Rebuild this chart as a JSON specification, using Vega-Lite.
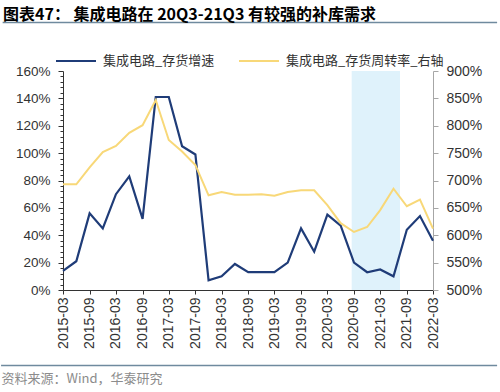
{
  "$schema": "https://vega.github.io/schema/vega-lite/v6.json",
  "width": 370,
  "height": 219,
  "autosize": {"type": "none"},
  "padding": {"left": 63, "top": 71, "right": 67, "bottom": 102},
  "background": "white",
  "title": {
    "text": "图表47： 集成电路在 20Q3-21Q3 有较强的补库需求",
    "anchor": "start",
    "frame": "group",
    "dx": -60,
    "dy": 1,
    "offset": 0,
    "font": "Noto Sans CJK SC",
    "fontSize": 16,
    "fontWeight": "bold",
    "color": "#000000"
  },
  "config": {
    "view": {"stroke": null},
    "axis": {"grid": false, "labelFont": "Liberation Sans", "labelColor": "#333333", "labelOverlap": false},
    "axisX": {
      "format": "%Y-%m",
      "labelAngle": -90,
      "labelAlign": "right",
      "labelBaseline": "middle",
      "labelFontSize": 14,
      "labelPadding": 3,
      "tickSize": 4,
      "tickColor": "#333333",
      "domainColor": "#333333",
      "titleX": -62,
      "titleY": 88,
      "titleAlign": "left",
      "titleAnchor": "start",
      "titleBaseline": "middle",
      "titleFont": "Noto Sans CJK SC",
      "titleFontSize": 13,
      "titleFontWeight": "normal",
      "titleColor": "#8C8C8C"
    },
    "legend": {
      "orient": "none",
      "legendX": -8,
      "legendY": -31,
      "direction": "horizontal",
      "symbolType": "stroke",
      "symbolSize": 1600,
      "symbolStrokeWidth": 2,
      "labelFont": "Noto Sans CJK SC",
      "labelFontSize": 13,
      "labelColor": "#333333",
      "columnPadding": 20,
      "labelOffset": 6
    }
  },
  "data": {
    "values": [
      {"date": "2015-03-01", "growth": 0.14, "turnover": 6.93},
      {"date": "2015-06-01", "growth": 0.21, "turnover": 6.93},
      {"date": "2015-09-01", "growth": 0.56, "turnover": 7.24},
      {"date": "2015-12-01", "growth": 0.45, "turnover": 7.52},
      {"date": "2016-03-01", "growth": 0.70, "turnover": 7.63},
      {"date": "2016-06-01", "growth": 0.83, "turnover": 7.87},
      {"date": "2016-09-01", "growth": 0.52, "turnover": 8.01},
      {"date": "2016-12-01", "growth": 1.41, "turnover": 8.47},
      {"date": "2017-03-01", "growth": 1.41, "turnover": 7.74},
      {"date": "2017-06-01", "growth": 1.05, "turnover": 7.53},
      {"date": "2017-09-01", "growth": 0.99, "turnover": 7.28},
      {"date": "2017-12-01", "growth": 0.07, "turnover": 6.73},
      {"date": "2018-03-01", "growth": 0.10, "turnover": 6.79},
      {"date": "2018-06-01", "growth": 0.19, "turnover": 6.74},
      {"date": "2018-09-01", "growth": 0.13, "turnover": 6.74},
      {"date": "2018-12-01", "growth": 0.13, "turnover": 6.75},
      {"date": "2019-03-01", "growth": 0.13, "turnover": 6.72},
      {"date": "2019-06-01", "growth": 0.20, "turnover": 6.79},
      {"date": "2019-09-01", "growth": 0.45, "turnover": 6.82},
      {"date": "2019-12-01", "growth": 0.28, "turnover": 6.82},
      {"date": "2020-03-01", "growth": 0.55, "turnover": 6.55},
      {"date": "2020-06-01", "growth": 0.47, "turnover": 6.22},
      {"date": "2020-09-01", "growth": 0.20, "turnover": 6.06},
      {"date": "2020-12-01", "growth": 0.13, "turnover": 6.15},
      {"date": "2021-03-01", "growth": 0.15, "turnover": 6.46},
      {"date": "2021-06-01", "growth": 0.10, "turnover": 6.85},
      {"date": "2021-09-01", "growth": 0.44, "turnover": 6.53},
      {"date": "2021-12-01", "growth": 0.54, "turnover": 6.65},
      {"date": "2022-03-01", "growth": 0.36, "turnover": 6.12}
    ]
  },
  "layer": [
    {
      "layer": [
        {
          "data": {"values": [{}]},
          "mark": {"type": "rect", "color": "#DFF2FB"},
          "encoding": {
            "x": {"datum": {"year": 2020, "month": 8, "date": 16, "utc": true}, "type": "temporal",
                  "axis": {"title": "资料来源：Wind，华泰研究", "values": [
                    {"year": 2015, "month": 3, "date": 1, "utc": true}, {"year": 2015, "month": 9, "date": 1, "utc": true},
                    {"year": 2016, "month": 3, "date": 1, "utc": true}, {"year": 2016, "month": 9, "date": 1, "utc": true},
                    {"year": 2017, "month": 3, "date": 1, "utc": true}, {"year": 2017, "month": 9, "date": 1, "utc": true},
                    {"year": 2018, "month": 3, "date": 1, "utc": true}, {"year": 2018, "month": 9, "date": 1, "utc": true},
                    {"year": 2019, "month": 3, "date": 1, "utc": true}, {"year": 2019, "month": 9, "date": 1, "utc": true},
                    {"year": 2020, "month": 3, "date": 1, "utc": true}, {"year": 2020, "month": 9, "date": 1, "utc": true},
                    {"year": 2021, "month": 3, "date": 1, "utc": true}, {"year": 2021, "month": 9, "date": 1, "utc": true},
                    {"year": 2022, "month": 3, "date": 1, "utc": true}]},
                  "scale": {"type": "utc", "nice": false, "domain": [{"year": 2015, "month": 3, "date": 1, "utc": true}, {"year": 2022, "month": 3, "date": 1, "utc": true}]}},
            "x2": {"datum": {"year": 2021, "month": 7, "date": 16, "utc": true}},
            "y": {"datum": 0, "type": "quantitative", "scale": {"domain": [0, 1.6], "nice": false},
                  "axis": {"orient": "left", "title": null, "values": [0,0.04,0.08,0.12,0.16,0.2,0.24,0.28,0.32,0.36,0.4,0.44,0.48,0.52,0.56,0.6,0.64,0.68,0.72,0.76,0.8,0.84,0.88,0.92,0.96,1,1.04,1.08,1.12,1.16,1.2,1.24,1.28,1.32,1.36,1.4,1.44,1.48,1.52,1.56,1.6],
                           "labelExpr": "round(datum.value*100) % 20 == 0 ? format(datum.value, '.0%') : ''",
                           "tickSize": {"condition": {"test": "round(datum.value*100) % 20 == 0", "value": 5}, "value": 3},
                           "labelFontSize": 13.5, "labelPadding": 8, "tickColor": "#333333", "domainColor": "#333333"}},
            "y2": {"datum": 1.6}
          }
        },
        {
          "data": {"values": [{}]},
          "mark": {"type": "rule", "color": "#6F8A9E", "strokeWidth": 1.5, "clip": false},
          "encoding": {
            "x": {"datum": {"year": 2014, "month": 1, "date": 8, "utc": true}, "type": "temporal",
                  "axis": {"title": "资料来源：Wind，华泰研究", "values": [
                    {"year": 2015, "month": 3, "date": 1, "utc": true}, {"year": 2015, "month": 9, "date": 1, "utc": true},
                    {"year": 2016, "month": 3, "date": 1, "utc": true}, {"year": 2016, "month": 9, "date": 1, "utc": true},
                    {"year": 2017, "month": 3, "date": 1, "utc": true}, {"year": 2017, "month": 9, "date": 1, "utc": true},
                    {"year": 2018, "month": 3, "date": 1, "utc": true}, {"year": 2018, "month": 9, "date": 1, "utc": true},
                    {"year": 2019, "month": 3, "date": 1, "utc": true}, {"year": 2019, "month": 9, "date": 1, "utc": true},
                    {"year": 2020, "month": 3, "date": 1, "utc": true}, {"year": 2020, "month": 9, "date": 1, "utc": true},
                    {"year": 2021, "month": 3, "date": 1, "utc": true}, {"year": 2021, "month": 9, "date": 1, "utc": true},
                    {"year": 2022, "month": 3, "date": 1, "utc": true}]},
                  "scale": {"type": "utc", "nice": false, "domain": [{"year": 2015, "month": 3, "date": 1, "utc": true}, {"year": 2022, "month": 3, "date": 1, "utc": true}]}},
            "x2": {"datum": {"year": 2023, "month": 5, "date": 18, "utc": true}},
            "y": {"datum": 1.954, "type": "quantitative", "scale": {"domain": [0, 1.6], "nice": false},
                  "axis": {"orient": "left", "title": null, "values": [0,0.04,0.08,0.12,0.16,0.2,0.24,0.28,0.32,0.36,0.4,0.44,0.48,0.52,0.56,0.6,0.64,0.68,0.72,0.76,0.8,0.84,0.88,0.92,0.96,1,1.04,1.08,1.12,1.16,1.2,1.24,1.28,1.32,1.36,1.4,1.44,1.48,1.52,1.56,1.6],
                           "labelExpr": "round(datum.value*100) % 20 == 0 ? format(datum.value, '.0%') : ''",
                           "tickSize": {"condition": {"test": "round(datum.value*100) % 20 == 0", "value": 5}, "value": 3},
                           "labelFontSize": 13.5, "labelPadding": 8, "tickColor": "#333333", "domainColor": "#333333"}}
          }
        },
        {
          "data": {"values": [{}]},
          "mark": {"type": "rule", "color": "#6F8A9E", "strokeWidth": 1.5, "clip": false},
          "encoding": {
            "x": {"datum": {"year": 2013, "month": 12, "date": 28, "utc": true}, "type": "temporal",
                  "axis": {"title": "资料来源：Wind，华泰研究", "values": [
                    {"year": 2015, "month": 3, "date": 1, "utc": true}, {"year": 2015, "month": 9, "date": 1, "utc": true},
                    {"year": 2016, "month": 3, "date": 1, "utc": true}, {"year": 2016, "month": 9, "date": 1, "utc": true},
                    {"year": 2017, "month": 3, "date": 1, "utc": true}, {"year": 2017, "month": 9, "date": 1, "utc": true},
                    {"year": 2018, "month": 3, "date": 1, "utc": true}, {"year": 2018, "month": 9, "date": 1, "utc": true},
                    {"year": 2019, "month": 3, "date": 1, "utc": true}, {"year": 2019, "month": 9, "date": 1, "utc": true},
                    {"year": 2020, "month": 3, "date": 1, "utc": true}, {"year": 2020, "month": 9, "date": 1, "utc": true},
                    {"year": 2021, "month": 3, "date": 1, "utc": true}, {"year": 2021, "month": 9, "date": 1, "utc": true},
                    {"year": 2022, "month": 3, "date": 1, "utc": true}]},
                  "scale": {"type": "utc", "nice": false, "domain": [{"year": 2015, "month": 3, "date": 1, "utc": true}, {"year": 2022, "month": 3, "date": 1, "utc": true}]}},
            "x2": {"datum": {"year": 2023, "month": 5, "date": 18, "utc": true}},
            "y": {"datum": -0.5516, "type": "quantitative", "scale": {"domain": [0, 1.6], "nice": false},
                  "axis": {"orient": "left", "title": null, "values": [0,0.04,0.08,0.12,0.16,0.2,0.24,0.28,0.32,0.36,0.4,0.44,0.48,0.52,0.56,0.6,0.64,0.68,0.72,0.76,0.8,0.84,0.88,0.92,0.96,1,1.04,1.08,1.12,1.16,1.2,1.24,1.28,1.32,1.36,1.4,1.44,1.48,1.52,1.56,1.6],
                           "labelExpr": "round(datum.value*100) % 20 == 0 ? format(datum.value, '.0%') : ''",
                           "tickSize": {"condition": {"test": "round(datum.value*100) % 20 == 0", "value": 5}, "value": 3},
                           "labelFontSize": 13.5, "labelPadding": 8, "tickColor": "#333333", "domainColor": "#333333"}}
          }
        },
        {
          "mark": {"type": "line", "strokeWidth": 2.2},
          "encoding": {
            "x": {
              "field": "date", "type": "temporal",
              "axis": {"title": "资料来源：Wind，华泰研究", "values": [
                {"year": 2015, "month": 3, "date": 1, "utc": true}, {"year": 2015, "month": 9, "date": 1, "utc": true},
                {"year": 2016, "month": 3, "date": 1, "utc": true}, {"year": 2016, "month": 9, "date": 1, "utc": true},
                {"year": 2017, "month": 3, "date": 1, "utc": true}, {"year": 2017, "month": 9, "date": 1, "utc": true},
                {"year": 2018, "month": 3, "date": 1, "utc": true}, {"year": 2018, "month": 9, "date": 1, "utc": true},
                {"year": 2019, "month": 3, "date": 1, "utc": true}, {"year": 2019, "month": 9, "date": 1, "utc": true},
                {"year": 2020, "month": 3, "date": 1, "utc": true}, {"year": 2020, "month": 9, "date": 1, "utc": true},
                {"year": 2021, "month": 3, "date": 1, "utc": true}, {"year": 2021, "month": 9, "date": 1, "utc": true},
                {"year": 2022, "month": 3, "date": 1, "utc": true}]},
              "scale": {"type": "utc", "nice": false, "domain": [{"year": 2015, "month": 3, "date": 1, "utc": true}, {"year": 2022, "month": 3, "date": 1, "utc": true}]}
            },
            "y": {
              "field": "growth", "type": "quantitative",
              "scale": {"domain": [0, 1.6], "nice": false},
              "axis": {"orient": "left", "title": null, "values": [0,0.04,0.08,0.12,0.16,0.2,0.24,0.28,0.32,0.36,0.4,0.44,0.48,0.52,0.56,0.6,0.64,0.68,0.72,0.76,0.8,0.84,0.88,0.92,0.96,1,1.04,1.08,1.12,1.16,1.2,1.24,1.28,1.32,1.36,1.4,1.44,1.48,1.52,1.56,1.6],
                       "labelExpr": "round(datum.value*100) % 20 == 0 ? format(datum.value, '.0%') : ''",
                       "tickSize": {"condition": {"test": "round(datum.value*100) % 20 == 0", "value": 5}, "value": 3},
                       "labelFontSize": 13.5, "labelPadding": 8, "tickColor": "#333333", "domainColor": "#333333"}
            },
            "color": {
              "datum": "集成电路_存货增速",
              "scale": {"domain": ["集成电路_存货增速", "集成电路_存货周转率_右轴"], "range": ["#1F3C78", "#F8D878"]},
              "legend": {"title": null}
            }
          }
        }
      ]
    },
    {
      "mark": {"type": "line", "strokeWidth": 2},
      "encoding": {
        "x": {"field": "date", "type": "temporal",
              "axis": {"title": "资料来源：Wind，华泰研究", "values": [
                {"year": 2015, "month": 3, "date": 1, "utc": true}, {"year": 2015, "month": 9, "date": 1, "utc": true},
                {"year": 2016, "month": 3, "date": 1, "utc": true}, {"year": 2016, "month": 9, "date": 1, "utc": true},
                {"year": 2017, "month": 3, "date": 1, "utc": true}, {"year": 2017, "month": 9, "date": 1, "utc": true},
                {"year": 2018, "month": 3, "date": 1, "utc": true}, {"year": 2018, "month": 9, "date": 1, "utc": true},
                {"year": 2019, "month": 3, "date": 1, "utc": true}, {"year": 2019, "month": 9, "date": 1, "utc": true},
                {"year": 2020, "month": 3, "date": 1, "utc": true}, {"year": 2020, "month": 9, "date": 1, "utc": true},
                {"year": 2021, "month": 3, "date": 1, "utc": true}, {"year": 2021, "month": 9, "date": 1, "utc": true},
                {"year": 2022, "month": 3, "date": 1, "utc": true}]},
              "scale": {"type": "utc", "nice": false, "domain": [{"year": 2015, "month": 3, "date": 1, "utc": true}, {"year": 2022, "month": 3, "date": 1, "utc": true}]}},
        "y": {
          "field": "turnover", "type": "quantitative",
          "scale": {"domain": [5, 9], "nice": false, "zero": false},
          "axis": {
            "orient": "right",
            "title": null,
            "values": [5, 5.5, 6, 6.5, 7, 7.5, 8, 8.5, 9],
            "format": ".0%",
            "labelFontSize": 14,
            "labelPadding": 8,
            "tickSize": 5,
            "tickColor": "#A6A6A6",
            "domainColor": "#A6A6A6"
          }
        },
        "color": {"datum": "集成电路_存货周转率_右轴"}
      }
    }
  ],
  "resolve": {"scale": {"y": "independent"}}
}
